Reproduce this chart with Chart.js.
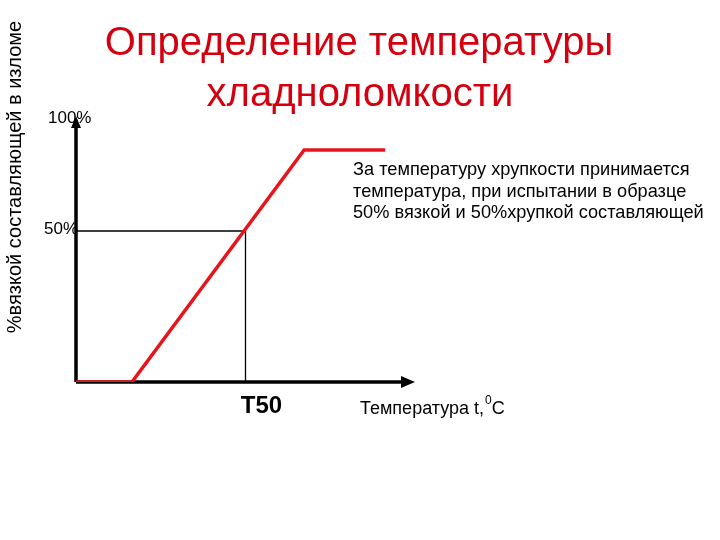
<!DOCTYPE html>
<html><head><meta charset="utf-8">
<script src="https://cdn.jsdelivr.net/npm/chart.js@4"></script>
<style>html,body{margin:0;padding:0;background:#fff}#wrap{width:720px;height:540px}</style>
</head><body><div id="wrap"><canvas id="c" width="720" height="540"></canvas></div>
<script>
// --- data (schematic ductile-to-brittle transition curve) ---
const curveT = [0, 16.5, 67.3, 91.2];      // temperature (relative units)
const curveShare = [0, 0, 87.9, 87.9];      // % ductile component
const t50 = 50;                              // T50 temperature
const halfLevel = 57.2;                      // level of 50% mark
const yTickValues = [100, halfLevel];
const yTickLabels = ["100%", "50%"];
const xTickLabels = ["T50"];
const titleLines = ["Определение температуры", "хладноломкости"];
const yAxisTitle = "%вязкой составляющей в изломе";
const xAxisTitle = "Температура t,";
const noteLines = ["За температуру хрупкости принимается", "температура, при испытании в образце", "50% вязкой и 50%хрупкой составляющей"];

const FONT = '"Liberation Sans", Arial, sans-serif';

const drawPlugin = {
  id: 'schematic',
  beforeDatasetsDraw(chart) {
    const {ctx, scales: {x, y}} = chart;
    const x0 = x.getPixelForValue(0), y0 = y.getPixelForValue(0);
    const xEnd = x.getPixelForValue(x.max), yTop = y.getPixelForValue(y.max);
    ctx.save();
    ctx.strokeStyle = '#000'; ctx.fillStyle = '#000'; ctx.lineWidth = 3.5;
    ctx.beginPath(); ctx.moveTo(x0, y0); ctx.lineTo(xEnd - 10, y0); ctx.stroke();
    ctx.beginPath(); ctx.moveTo(xEnd, y0); ctx.lineTo(xEnd - 14, y0 - 6); ctx.lineTo(xEnd - 14, y0 + 6); ctx.closePath(); ctx.fill();
    ctx.beginPath(); ctx.moveTo(x0, y0); ctx.lineTo(x0, yTop + 6); ctx.stroke();
    ctx.beginPath(); ctx.moveTo(x0, yTop - 2); ctx.lineTo(x0 - 5, yTop + 10); ctx.lineTo(x0 + 5, yTop + 10); ctx.closePath(); ctx.fill();
    ctx.restore();
  },
  afterDraw(chart) {
    const {ctx, scales: {x, y}} = chart;
    const x0 = x.getPixelForValue(0), y0 = y.getPixelForValue(0);
    ctx.save();
    ctx.textBaseline = 'middle';
    // title
    ctx.fillStyle = '#d4000f';
    ctx.font = '40px ' + FONT;
    ctx.textAlign = 'center';
    ctx.fillText(titleLines[0], 359, 44);
    ctx.fillText(titleLines[1], 360, 95);
    // y ticks
    ctx.fillStyle = '#000';
    ctx.font = '17px ' + FONT;
    ctx.textAlign = 'left';
    ctx.fillText(yTickLabels[0], 48, y.getPixelForValue(yTickValues[0]));
    ctx.fillText(yTickLabels[1], 44, y.getPixelForValue(yTickValues[1]) - 2);
    // x tick T50
    ctx.font = 'bold 24px ' + FONT;
    ctx.textAlign = 'center';
    ctx.fillText(xTickLabels[0], x.getPixelForValue(t50) + 16, y0 + 24);
    // x axis title
    ctx.font = '18px ' + FONT;
    ctx.textAlign = 'left';
    const xt = 360;
    ctx.fillText(xAxisTitle, xt, y0 + 27);
    let w = ctx.measureText(xAxisTitle).width;
    ctx.font = '12px ' + FONT;
    ctx.fillText('0', xt + w + 1, y0 + 19);
    let w2 = ctx.measureText('0').width;
    ctx.font = '18px ' + FONT;
    ctx.fillText('C', xt + w + w2 + 1, y0 + 27);
    // y axis title
    ctx.save();
    ctx.translate(15, 177);
    ctx.rotate(-Math.PI / 2);
    ctx.font = '20px ' + FONT;
    ctx.textAlign = 'center';
    ctx.fillText(yAxisTitle, 0, 0);
    ctx.restore();
    // note
    ctx.font = '18.2px ' + FONT;
    ctx.textAlign = 'left';
    noteLines.forEach((l, i) => ctx.fillText(l, 353, 170 + i * 21.5));
    ctx.restore();
  }
};

new Chart(document.getElementById('c'), {
  type: 'line',
  data: {
    datasets: [
      {
        data: curveT.map((t, i) => ({x: t, y: curveShare[i]})),
        borderColor: '#e8141c', borderWidth: 3.5, pointRadius: 0, tension: 0, fill: false,
        borderCapStyle: 'butt', borderJoinStyle: 'miter'
      },
      {
        data: [{x: 0, y: halfLevel}, {x: t50, y: halfLevel}, {x: t50, y: 0}],
        borderColor: '#000', borderWidth: 1.3, pointRadius: 0, tension: 0, fill: false
      }
    ]
  },
  options: {
    responsive: false,
    animation: false,
    layout: {padding: {left: 76, right: 305, top: 118, bottom: 158}},
    plugins: {legend: {display: false}, tooltip: {enabled: false}, title: {display: false}},
    scales: {
      x: {type: 'linear', min: 0, max: 100, display: false},
      y: {type: 'linear', min: 0, max: 100, display: false}
    }
  },
  plugins: [drawPlugin]
});
</script>
</body></html>
